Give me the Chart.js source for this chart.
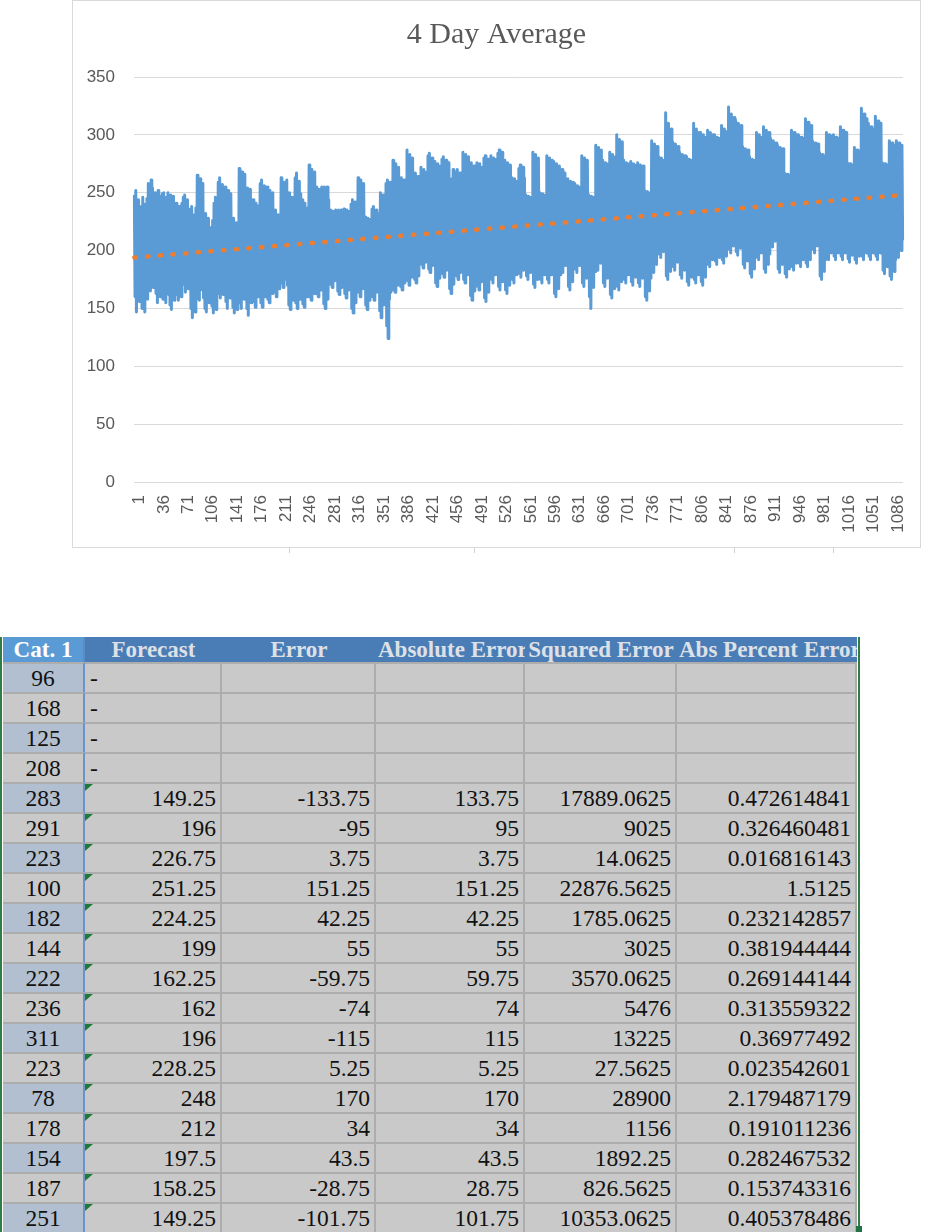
<!DOCTYPE html>
<html>
<head>
<meta charset="utf-8">
<script src="https://cdn.jsdelivr.net/npm/chart.js@4.4.1/dist/chart.umd.min.js"></script>
<style>
  html, body { margin: 0; padding: 0; background: #fff; }
  body { width: 928px; height: 1232px; position: relative; overflow: hidden; }
  #chart-box { position: absolute; left: 72px; top: 0; width: 849px; height: 548px; border: 1px solid #d9d9d9; box-sizing: border-box; }
  #chart-box canvas { display: block; }
  .tick { position: absolute; top: 548px; width: 1px; height: 5px; background: #d0d0d0; }
  #sheet { position: absolute; left: 3px; top: 637px; display: grid;
    grid-template-columns: 82px 137px 154px 149px 152px 180px;
    grid-template-rows: 25px repeat(19, 30px);
    font-family: "Liberation Serif", "Times New Roman", serif; font-size: 23.5px; color: #111; }
  .hd { background: #4a7cb6; color: #dde1e6; font-weight: bold; font-size: 23px; text-align: center; line-height: 25px; white-space: nowrap; overflow: hidden; }
  .hd.wide { text-align: left; padding-left: 2px; }
  .hd.first { background: #5b9bd5; color: #fff; border-right: 2px solid #5b8cc6; box-sizing: border-box; }
  .cell { background: #c9c9c9; line-height: 29px; white-space: nowrap; overflow: hidden; position: relative;
    border-right: 2px solid #adadad; border-top: 2px solid #adadad; box-sizing: border-box; text-align: right; padding-right: 4px; }
  .cell.cat { text-align: center; padding-right: 0; border-right: 2px solid #6b93c6; }
  .cell.cat.odd { background: #b1bfd0; }
  .cell.dash { text-align: left; padding-left: 5px; }
  .cell.note::before { content: ""; position: absolute; left: 0; top: 0; width: 8px; height: 7px; background: #1e7b36; clip-path: polygon(0 0, 100% 0, 0 100%); }
  #sel-left { position: absolute; left: 0; top: 637px; width: 2px; height: 595px; background: #2f7d44; }
  #sel-right { position: absolute; left: 858px; top: 637px; width: 2px; height: 595px; background: #2f7d44; }
  #sel-handle { position: absolute; left: 856px; top: 1226px; width: 6px; height: 6px; background: #217346; }
</style>
</head>
<body>
<div id="chart-box"><canvas id="avg-chart" width="847" height="546"></canvas></div>
<div class="tick" style="left:289px"></div>
<div class="tick" style="left:474px"></div>
<div class="tick" style="left:734px"></div>
<div class="tick" style="left:833px"></div>
<div id="sheet"></div>
<div id="sel-left"></div>
<div id="sel-right"></div>
<div id="sel-handle"></div>
<script>
// 4 day average (one row = two blocks of ten days)
const avgValues = [
  248,160,252,147,231,175,244,156,238,168, 229,150,246,162,240,147,233,171,245,158,
  258,172,249,165,261,180,254,168,243,176, 250,163,241,155,252,178,236,160,247,170,
  249,158,250,167,238,155,246,174,250,162, 244,153,248,149,235,166,247,157,239,172,
  241,162,230,157,238,170,233,160,241,175, 246,171,248,164,237,180,244,167,232,176,
  236,150,238,142,225,163,231,147,237,158, 265,160,252,157,262,171,248,166,258,159,
  230,150,232,147,221,164,228,155,219,170, 220,152,226,146,241,160,246,149,238,167,
  259,163,263,159,248,175,257,162,251,170, 255,156,243,150,252,168,238,159,249,172,
  226,151,228,146,219,162,224,149,215,170, 271,155,262,150,268,167,249,158,266,172,
  229,150,254,144,247,162,253,155,238,170, 244,156,236,151,241,168,224,160,239,174,
  258,155,261,151,249,167,256,160,244,172, 255,158,247,155,252,170,240,163,250,176,
  233,164,235,160,226,174,231,167,222,178, 263,172,254,168,259,181,247,175,261,170,
  248,153,250,149,241,165,246,157,236,170, 263,155,267,150,252,166,260,158,249,172,
  244,154,238,151,241,168,229,160,237,173, 274,160,265,157,270,171,255,163,268,176,
  255,163,248,160,253,175,246,166,255,179, 252,154,255,150,247,167,255,158,244,172,
  235,171,230,168,234,180,227,174,235,184, 233,165,235,162,229,177,235,168,226,180,
  236,163,231,159,235,174,228,166,234,178, 240,150,244,146,236,163,242,155,232,170,
  263,164,255,160,261,176,250,167,258,180, 229,153,224,149,228,166,221,157,227,171,
  236,160,238,157,230,172,235,164,226,177, 232,148,250,142,244,160,248,153,239,168,
  258,135,261,124,252,158,259,164,255,170, 278,166,269,164,275,178,263,170,272,181,
  260,169,263,166,255,180,261,172,250,183, 287,174,276,170,283,184,270,177,280,188,
  265,175,267,172,259,186,264,178,256,190, 272,188,264,185,270,196,261,190,268,199,
  282,184,284,181,276,194,280,187,272,198, 277,172,270,169,275,183,266,176,273,187,
  279,180,281,177,272,190,278,183,269,193, 276,167,255,163,262,178,270,171,258,184,
  268,178,270,175,262,188,267,181,259,191, 285,175,279,172,283,186,274,179,281,190,
  274,161,276,157,268,172,273,165,264,178, 276,169,270,166,275,180,266,173,272,184,
  280,159,282,156,274,171,279,164,270,177, 282,175,277,172,280,186,272,179,279,190,
  284,169,287,166,279,181,285,173,276,185, 278,166,270,163,276,177,267,170,274,182,
  263,175,257,172,262,186,254,179,260,190, 271,180,274,177,266,190,272,183,263,193,
  248,178,244,175,247,188,241,181,246,192, 285,171,278,168,283,182,274,175,280,186,
  250,175,246,172,249,186,243,179,248,190, 282,175,276,172,280,186,272,179,278,190,
  277,163,271,160,275,175,268,167,273,179, 268,184,270,181,263,193,267,187,261,196,
  262,169,257,166,260,180,254,173,259,184, 258,184,253,181,256,193,250,187,255,196,
  282,172,276,169,280,183,272,176,278,187, 248,160,244,150,247,175,241,168,246,182,
  291,186,284,183,289,195,280,189,287,198, 278,172,272,169,276,183,269,176,275,187,
  285,162,278,159,283,174,275,167,281,178, 300,169,290,166,296,180,286,173,294,184,
  278,175,272,172,276,186,269,179,275,190, 277,173,271,170,275,184,268,177,274,188,
  276,172,270,169,274,183,267,176,273,187, 252,160,248,157,251,172,245,165,250,176,
  295,184,288,181,292,194,284,188,290,197, 281,197,276,194,280,205,273,199,278,208,
  319,178,300,175,310,190,293,182,305,194, 294,186,287,183,292,196,284,190,290,199,
  285,179,279,176,283,190,276,183,282,193, 281,173,275,170,279,184,272,177,278,188,
  310,175,298,172,305,186,292,179,302,190, 302,173,295,170,300,184,291,177,298,188,
  304,189,297,186,302,198,293,192,300,201, 300,191,294,188,298,200,290,194,297,203,
  308,192,300,189,305,201,296,195,303,204, 324,201,310,198,318,209,302,204,315,212,
  313,199,305,196,310,207,300,202,308,210, 290,188,284,185,288,198,281,191,287,201,
  281,180,276,177,279,191,273,184,278,194, 302,195,295,192,300,204,291,198,298,207,
  307,184,299,181,304,194,295,188,302,197, 297,206,290,203,295,212,286,208,293,215,
  291,184,285,181,289,194,282,188,288,197, 267,180,263,177,266,190,260,184,265,193,
  304,186,297,183,302,196,293,189,300,199, 300,189,294,186,298,199,290,192,297,202,
  314,189,305,186,311,199,300,192,308,202, 295,201,289,198,293,209,285,204,292,212,
  285,178,280,175,283,189,276,182,282,192, 302,195,296,192,300,204,292,198,299,207,
  300,195,294,192,298,204,290,198,297,207, 307,195,299,192,304,204,295,198,302,207,
  276,193,272,190,275,202,268,196,274,205, 289,192,283,189,287,201,280,195,286,204,
  323,195,310,192,318,204,302,198,314,207, 310,195,302,192,307,204,298,198,305,207,
  316,195,307,192,312,204,302,198,310,207, 276,183,272,180,275,193,268,186,274,196,
  295,178,289,175,293,189,285,182,291,192, 295,197,289,194,293,206,285,200,291,209
];
// day numbers on the category axis
const days = avgValues.map((v, i) => String(i + 1));
const LABEL_STEP = 35;
// linear trendline ends
const trendStart = 194;
const trendEnd = 248;

const yMax = 350;
const yStep = 50;

const axisFont = { family: 'Liberation Sans', size: 17 };
const axisColor = '#595959';

const ctx = document.getElementById('avg-chart').getContext('2d');
new Chart(ctx, {
  type: 'line',
  data: {
    labels: days,
    datasets: [
      {
        label: 'Linear (4 Day Average)',
        data: [{ x: days[0], y: trendStart }, { x: days[days.length - 1], y: trendEnd }],
        borderColor: '#ED7D31',
        borderWidth: 4.5,
        borderDash: [1.5, 11.2],
        borderCapStyle: 'round',
        pointRadius: 0,
        order: 0
      },
      {
        label: '4 Day Average',
        data: avgValues,
        borderColor: '#5B9BD5',
        borderWidth: 3,
        borderJoinStyle: 'round',
        pointRadius: 0,
        tension: 0,
        order: 1
      }
    ]
  },
  options: {
    responsive: false,
    animation: false,
    events: [],
    plugins: {
      legend: { display: false },
      tooltip: { enabled: false },
      title: {
        display: true,
        text: '4 Day Average',
        color: '#595959',
        font: { family: 'Liberation Serif', size: 30, weight: 'normal', lineHeight: 1.2 },
        padding: { top: 16, bottom: 24 }
      }
    },
    scales: {
      x: {
        offset: true,
        grid: { display: false, drawTicks: false },
        border: { display: false },
        ticks: { autoSkip: false, minRotation: 90, maxRotation: 90, padding: 13, labelOffset: 5, color: axisColor, font: axisFont },
        afterBuildTicks: s => { s.ticks = s.ticks.filter(t => t.value % LABEL_STEP === 0); },
        afterFit: s => { s.height = 65; s.paddingLeft = 0; s.paddingRight = 0; }
      },
      y: {
        min: 0,
        max: yMax,
        grid: { color: '#d9d9d9', drawTicks: false },
        border: { display: false },
        ticks: { stepSize: yStep, padding: 19, color: axisColor, font: axisFont },
        afterFit: s => { s.width = 61; }
      },
      // empty strip on the right of the plot area
      yRight: {
        position: 'right',
        grid: { display: false, drawTicks: false },
        border: { display: false },
        ticks: { display: false },
        afterFit: s => { s.width = 17; }
      }
    }
  }
});

// spreadsheet below the chart
const headers = ['Cat. 1', 'Forecast', 'Error', 'Absolute Error', 'Squared Error', 'Abs Percent Error'];
const catValues = ['96', '168', '125', '208', '283', '291', '223', '100', '182', '144', '222', '236', '311', '223', '78', '178', '154', '187', '251'];
const forecast = ['-', '-', '-', '-', '149.25', '196', '226.75', '251.25', '224.25', '199', '162.25', '162', '196', '228.25', '248', '212', '197.5', '158.25', '149.25'];
const errorVals = ['', '', '', '', '-133.75', '-95', '3.75', '151.25', '42.25', '55', '-59.75', '-74', '-115', '5.25', '170', '34', '43.5', '-28.75', '-101.75'];
const absError = ['', '', '', '', '133.75', '95', '3.75', '151.25', '42.25', '55', '59.75', '74', '115', '5.25', '170', '34', '43.5', '28.75', '101.75'];
const sqError = ['', '', '', '', '17889.0625', '9025', '14.0625', '22876.5625', '1785.0625', '3025', '3570.0625', '5476', '13225', '27.5625', '28900', '1156', '1892.25', '826.5625', '10353.0625'];
const pctError = ['', '', '', '', '0.472614841', '0.326460481', '0.016816143', '1.5125', '0.232142857', '0.381944444', '0.269144144', '0.313559322', '0.36977492', '0.023542601', '2.179487179', '0.191011236', '0.282467532', '0.153743316', '0.405378486'];

const sheet = document.getElementById('sheet');
headers.forEach((h, i) => {
  const d = document.createElement('div');
  d.className = 'hd' + (i === 0 ? ' first' : '') + (i === 3 || i === 5 ? ' wide' : '');
  d.textContent = h;
  sheet.appendChild(d);
});
catValues.forEach((c, r) => {
  const row = [c, forecast[r], errorVals[r], absError[r], sqError[r], pctError[r]];
  row.forEach((txt, i) => {
    const d = document.createElement('div');
    let cls = 'cell';
    if (i === 0) cls += ' cat' + (r % 2 === 0 ? ' odd' : '');
    if (i === 1 && txt === '-') cls += ' dash';
    if (i === 1 && txt !== '-') cls += ' note';
    d.className = cls;
    d.textContent = txt;
    sheet.appendChild(d);
  });
});
</script>
</body>
</html>
